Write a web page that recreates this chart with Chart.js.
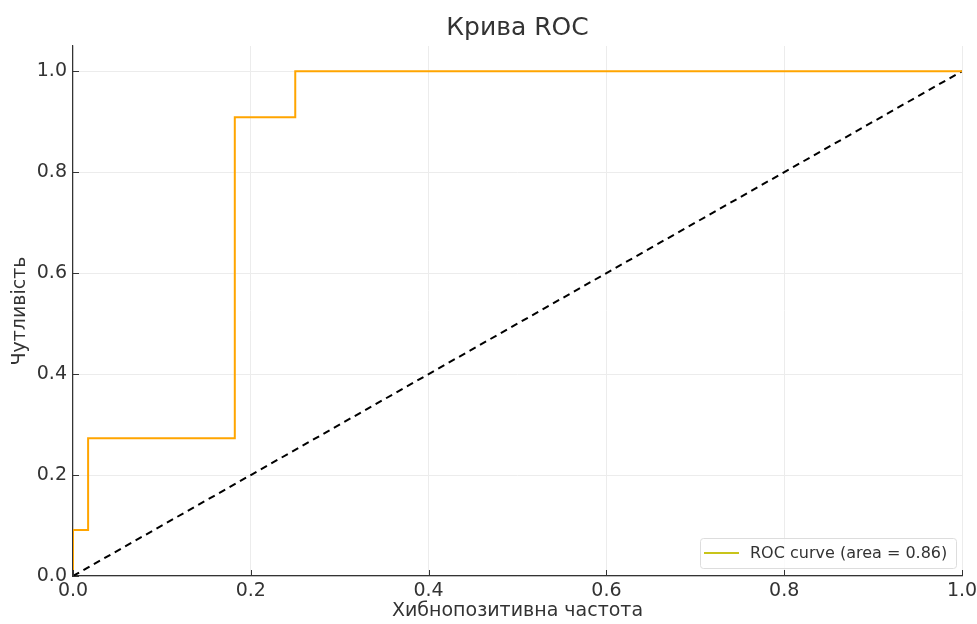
<!DOCTYPE html>
<html lang="uk">
<head>
    <meta charset="UTF-8">
    <title>Крива ROC</title>
    <style>
        html, body { margin: 0; padding: 0; background: #fff; }
        #wrap { width: 977px; height: 624px; }
    </style>
</head>
<body>
    <div id="wrap"><canvas id="rocChart"></canvas></div>
    <script src="https://cdn.jsdelivr.net/npm/chart.js"></script>
    <script>
const fpr = [0, 0, 0.017, 0.017, 0.182, 0.182, 0.25, 0.25, 1.0];
const tpr = [0, 0.091, 0.091, 0.273, 0.273, 0.909, 0.909, 1.0, 1.0];
const diagX = [0, 1];
const diagY = [0, 1];
const tickValues = [0, 0.2, 0.4, 0.6, 0.8, 1.0];
const legendText = 'ROC curve (area = 0.86)';

Chart.defaults.font.family = "'DejaVu Sans', sans-serif";
Chart.defaults.color = '#333';

// legend drawn in the lower right corner of the plot
const cornerLegend = {
    id: 'cornerLegend',
    afterDraw(chart) {
        const c = chart.ctx;
        const area = chart.chartArea;
        const w = 256, h = 30;
        const x = area.right - w - 6, y = area.bottom - h - 8;
        c.save();
        c.fillStyle = 'rgba(255,255,255,0.8)';
        c.strokeStyle = '#dddddd';
        c.lineWidth = 1;
        c.beginPath();
        c.roundRect(x + 0.5, y + 0.5, w, h, 3);
        c.fill();
        c.stroke();
        c.strokeStyle = '#c8c41a';
        c.lineWidth = 2;
        c.beginPath();
        c.moveTo(x + 4, y + h / 2);
        c.lineTo(x + 39, y + h / 2);
        c.stroke();
        c.fillStyle = '#333';
        c.font = "16px 'DejaVu Sans'";
        c.textBaseline = 'middle';
        c.fillText(legendText, x + 50, y + h / 2 + 1);
        c.restore();
    }
};

// short dark ticks pointing into the plot, like the original
const innerTicks = {
    id: 'innerTicks',
    afterDatasetsDraw(chart) {
        const c = chart.ctx;
        const area = chart.chartArea;
        const xs = chart.scales.x, ys = chart.scales.y;
        c.save();
        c.strokeStyle = '#333';
        c.lineWidth = 1;
        c.beginPath();
        tickValues.forEach(v => {
            const px = Math.round(xs.getPixelForValue(v)) + 0.5;
            c.moveTo(px, area.bottom);
            c.lineTo(px, area.bottom - 6);
            const py = Math.round(ys.getPixelForValue(v)) + 0.5;
            c.moveTo(area.left, py);
            c.lineTo(area.left + 6, py);
        });
        c.stroke();
        c.restore();
    }
};

const ctx = document.getElementById('rocChart').getContext('2d');
const rocChart = new Chart(ctx, {
    type: 'scatter',
    data: {
        datasets: [{
            label: legendText,
            data: fpr.map((v, i) => ({ x: v, y: tpr[i] })),
            showLine: true,
            borderColor: '#ffa500',
            borderWidth: 2,
            pointRadius: 0,
            tension: 0
        }, {
            label: 'diag',
            data: diagX.map((v, i) => ({ x: v, y: diagY[i] })),
            showLine: true,
            borderColor: '#000',
            borderWidth: 2,
            borderDash: [7, 5],
            pointRadius: 0
        }]
    },
    options: {
        responsive: true,
        maintainAspectRatio: false,
        animation: false,
        layout: { padding: { left: 0, right: 15, top: 0, bottom: 0 } },
        plugins: {
            legend: { display: false },
            tooltip: { enabled: false },
            title: {
                display: true,
                fullSize: false,
                text: 'Крива ROC',
                font: { size: 25, weight: 'normal', lineHeight: 1.2 },
                color: '#333',
                padding: { top: 13, bottom: 3 }
            }
        },
        scales: {
            x: {
                type: 'linear',
                min: 0,
                max: 1,
                afterBuildTicks: (axis) => { axis.ticks = tickValues.map(v => ({ value: v })); },
                afterFit: (axis) => { axis.height = 48; axis.paddingLeft = 0; axis.paddingRight = 0; },
                ticks: { font: { size: 19 }, color: '#333', padding: 4, callback: (v) => v.toFixed(1) },
                grid: { color: '#ececec', drawTicks: false },
                border: { color: '#333', width: 1.2 },
                title: { display: true, text: 'Хибнопозитивна частота', font: { size: 19, lineHeight: 1.2 }, color: '#333', padding: { top: 0, bottom: 1.5 } }
            },
            y: {
                type: 'linear',
                min: 0,
                max: 1.05,
                afterBuildTicks: (axis) => { axis.ticks = tickValues.map(v => ({ value: v })); },
                afterFit: (axis) => { axis.width = 73; axis.paddingTop = 0; axis.paddingBottom = 0; },
                ticks: { font: { size: 19 }, color: '#333', padding: 6, callback: (v) => v.toFixed(1) },
                grid: { color: '#ececec', drawTicks: false },
                border: { color: '#333', width: 1.2 },
                title: { display: true, text: 'Чутливість', font: { size: 19, lineHeight: 1.2 }, color: '#333', padding: { top: 8.5, bottom: 0 } }
            }
        }
    },
    plugins: [cornerLegend, innerTicks]
});
    </script>
</body>
</html>
